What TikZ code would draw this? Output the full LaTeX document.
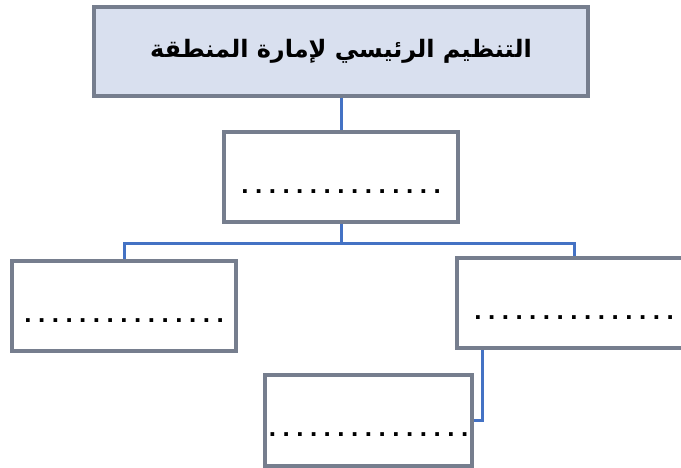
\documentclass[tikz,border=0pt]{standalone}
\usepackage{fontspec}
\newfontfamily\arabicfont[Script=Arabic]{DejaVu Sans}
\newfontfamily\dotfont[LetterSpace=25]{Liberation Sans}
\TeXXeTstate=1

\definecolor{boxfill}{RGB}{217,224,239}
\definecolor{boxline}{RGB}{118,126,142}
\definecolor{linkblue}{RGB}{68,114,196}

\tikzset{
    orgbox/.style={draw=boxline, line width=3.2pt, fill=white, inner sep=0pt,
        text height=32pt, text depth=0pt, font=\dotfont\fontsize{26}{30}\bfseries},
    link/.style={draw=linkblue, line width=3pt}
}

\begin{document}
\begin{tikzpicture}[x=1pt, y=-1pt]
        % Fix the frame
        \useasboundingbox (0,0) rectangle (681,467);
        \clip (0,0) rectangle (681,467);

        % Top box with the title
        \node[draw=boxline, line width=3.2pt, fill=boxfill, minimum width=494pt, minimum height=89pt, inner sep=0pt,
            font=\arabicfont\fontsize{24}{30}\bfseries] (head) at (341,51.5)
            {\raisebox{4pt}{\beginR التنظيم الرئيسي لإمارة المنطقة\endR}};

        % Empty boxes to fill in
        \node[orgbox, minimum width=234pt, minimum height=90pt] (mid) at (341,177) {...............};
        \node[orgbox, minimum width=224pt, minimum height=90pt] (left) at (124,306) {...............};
        \node[orgbox, minimum width=234pt, minimum height=90pt] (right) at (574,303) {...............};
        \node[orgbox, minimum width=207pt, minimum height=91pt] (bottom) at (368.5,420.5) {...............};

        % Connectors
        \draw[link] (head.south) -- (mid.north);
        \draw[link] (mid.south) -- ++(0,20) -| (left.north);
        \draw[link] (mid.south) -- ++(0,20) -| (right.north);
        \draw[link] (right.south -| 482,0) |- (bottom.east);

    \end{tikzpicture}
\end{document}
